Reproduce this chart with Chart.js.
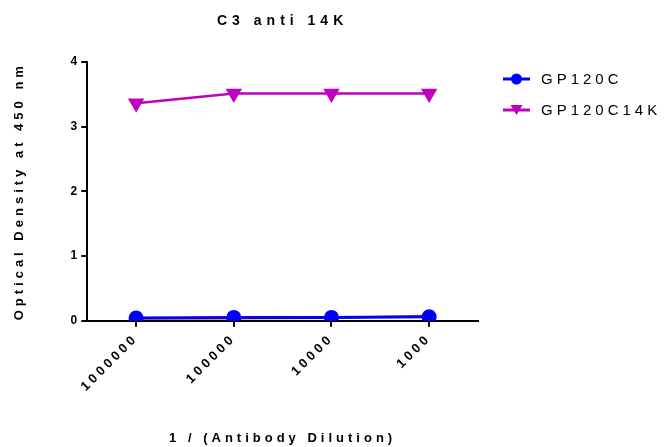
<!DOCTYPE html>
<html>
<head>
<meta charset="utf-8">
<script src="https://cdn.jsdelivr.net/npm/chart.js@4/dist/chart.umd.min.js"></script>
<style>
  html, body { margin: 0; padding: 0; background: #fff; }
  #wrap { width: 665px; height: 447px; position: relative; }
</style>
</head>
<body>
<div id="wrap"><canvas id="c"></canvas></div>
<script>
// data
const dilutions = ['1000000', '100000', '10000', '1000'];
const gp120c = [0.04, 0.05, 0.05, 0.06];
const gp120c14k = [3.36, 3.51, 3.51, 3.51];
const hiddenSeries = [0.03, 0.03, 0.04, 0.08];
const yTicks = [0, 1, 2, 3, 4];

const FONT = 'Liberation Sans, Arial, sans-serif';

// wide letter spacing like the original (keyed by font size)
const spacingBySize = { '14': '5px', '13': '4px', '12.9': '3.5px', '12': '1px' };
const canvas = document.getElementById('c');
const c2d = canvas.getContext('2d');
const fontDesc = Object.getOwnPropertyDescriptor(CanvasRenderingContext2D.prototype, 'font');
Object.defineProperty(c2d, 'font', {
    get() { return fontDesc.get.call(this); },
    set(v) {
        fontDesc.set.call(this, v);
        const m = /([\d.]+)px/.exec(v);
        this.letterSpacing = (m && spacingBySize[m[1]]) || '0px';
    }
});

// legend drawn by hand to the right of the plot: line + marker + label
const sideLegend = {
    id: 'sideLegend',
    afterDraw(chart) {
        const ctx = chart.ctx;
        const x0 = chart.chartArea.right + 25;
        const items = chart.data.datasets.filter(d => d.showInLegend);
        ctx.save();
        ctx.font = '15px ' + FONT;
        ctx.letterSpacing = '4px';
        ctx.textBaseline = 'middle';
        items.forEach((ds, i) => {
            const y = 79 + i * 31;
            ctx.strokeStyle = ds.borderColor;
            ctx.fillStyle = ds.borderColor;
            ctx.lineWidth = 3;
            ctx.beginPath(); ctx.moveTo(x0, y); ctx.lineTo(x0 + 27, y); ctx.stroke();
            ctx.beginPath();
            if (ds.pointStyle === 'circle') {
                ctx.arc(x0 + 13.5, y, 5.5, 0, Math.PI * 2);
            } else {
                ctx.moveTo(x0 + 7.5, y - 5); ctx.lineTo(x0 + 19.5, y - 5); ctx.lineTo(x0 + 13.5, y + 5); ctx.closePath();
            }
            ctx.fill();
            ctx.fillStyle = '#000';
            ctx.fillText(ds.label, x0 + 38, y + 1);
        });
        ctx.restore();
    }
};

new Chart(canvas, {
    type: 'line',
    data: {
        labels: dilutions,
        datasets: [
            {
                label: 'GP120C',
                data: gp120c,
                borderColor: '#0000ff',
                backgroundColor: '#0000ff',
                borderWidth: 3,
                pointStyle: 'circle',
                pointRadius: 6,
                order: 1,
                showInLegend: true
            },
            {
                label: 'GP120C14K',
                data: gp120c14k,
                borderColor: '#c000c0',
                backgroundColor: '#c000c0',
                borderWidth: 2.5,
                pointStyle: 'triangle',
                rotation: 180,
                pointRadius: 7,
                order: 2,
                showInLegend: true
            },
            {
                label: 'hidden',
                data: hiddenSeries,
                borderColor: '#ff8000',
                backgroundColor: '#ff8000',
                borderWidth: 2,
                pointRadius: 0,
                order: 3
            }
        ]
    },
    options: {
        responsive: true,
        maintainAspectRatio: false,
        animation: false,
        layout: { padding: { top: 13, left: 12, right: 187, bottom: 1 } },
        plugins: {
            title: {
                display: true,
                fullSize: false,
                text: 'C3 anti 14K',
                color: '#000',
                font: { family: FONT, size: 14, weight: 'bold' },
                padding: { top: 0, bottom: 32 }
            },
            legend: { display: false },
            tooltip: { enabled: false }
        },
        scales: {
            x: {
                offset: true,
                border: { color: '#000', width: 2 },
                grid: { display: true, drawOnChartArea: false, offset: false, color: '#000', lineWidth: 2, tickLength: 6 },
                ticks: {
                    color: '#000',
                    minRotation: 45,
                    maxRotation: 45,
                    font: { family: FONT, size: 12.9, weight: 'bold' },
                    padding: 4
                },
                title: {
                    display: true,
                    text: '1 / (Antibody Dilution)',
                    color: '#000',
                    font: { family: FONT, size: 13, weight: 'bold' },
                    padding: { top: 32, bottom: 0 }
                }
            },
            y: {
                min: 0,
                max: 4,
                afterBuildTicks(axis) { axis.ticks = yTicks.map(v => ({ value: v })); },
                border: { color: '#000', width: 2 },
                grid: { display: true, drawOnChartArea: false, color: '#000', lineWidth: 2, tickLength: 6 },
                ticks: {
                    color: '#000',
                    font: { family: FONT, size: 12, weight: 'bold' },
                    padding: 3
                },
                title: {
                    display: true,
                    text: 'Optical Density at 450 nm',
                    color: '#000',
                    font: { family: FONT, size: 13, weight: 'bold' },
                    padding: { top: 0, bottom: 40 }
                }
            }
        }
    },
    plugins: [sideLegend]
});
</script>
</body>
</html>
